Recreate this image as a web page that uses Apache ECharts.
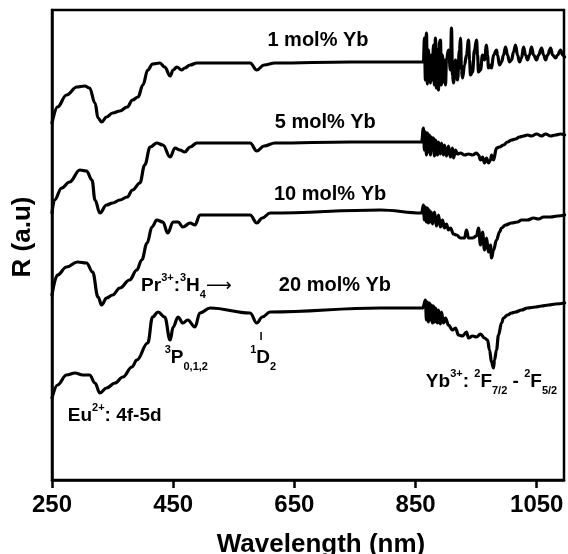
<!DOCTYPE html>
<html><head><meta charset="utf-8">
<script src="https://cdn.jsdelivr.net/npm/echarts@6/dist/echarts.min.js"></script>
<style>html,body{margin:0;padding:0;background:#fff}#c{width:568px;height:554px}</style>
</head><body><div id="c"></div>
<script>
// ---- data (wavelength nm, reflectance a.u.) ----
const xTicks = [250, 450, 650, 850, 1050];
const seriesNames = ['1 mol% Yb', '5 mol% Yb', '10 mol% Yb', '20 mol% Yb'];

const yb1 = [
 [250,35.7],[259,37.3],[274,38.5],[291,39.3],[304,39.4],[312,39.2],[321,37.7],[326,36.2],[332,35.8],[340,36.3],
 [350,36.7],[362,36.9],[374,37.3],[383,38.0],[392,38.3],[400,39.5],[408,41.0],[416,41.6],[428,41.7],[436,41.3],
 [445,40.4],[450,41.0],[456,41.3],[464,41.0],[469,41.2],[478,41.5],[489,41.7],[577,41.7],[588,41.0],[600,41.5],
 [618,41.7],[742,41.8],[861,41.8],
 [863.0,41.8],[864.7,44.2],[866.3,40.0],[868.0,44.7],[869.6,39.6],[871.3,43.0],[872.9,40.5],[874.6,39.7],[876.2,42.5],
 [877.9,40.0],[879.5,43.5],[881.2,39.5],[882.8,44.2],[884.5,39.2],[886.2,43.0],[887.8,39.0],[889.5,43.8],[891.1,44.0],
 [892.8,39.5],[894.4,42.5],[896.1,39.8],[897.7,42.0],[899.4,39.5],[901.0,42.0],[904.3,43.0],[907.6,41.0],[909.3,45.2],
 [911.0,40.5],[912.6,39.7],[915.9,42.0],[919.2,40.0],[922.5,43.0],[924.2,44.2],[925.8,41.0],[927.5,40.2],[930.8,41.5],
 [934.1,42.5],[937.4,44.0],[939.1,42.0],[940.7,40.5],[944.0,40.8],[947.3,43.0],[950.6,44.0],[952.3,42.5],[953.9,40.8],
 [957.2,41.0],[960.5,42.5],[963.8,42.0],[967.1,43.5],[968.8,42.5],[970.4,41.2],[973.7,41.5],[975.4,41.2],[978.7,42.5],
 [983.6,43.0],[985.3,42.5],[988.6,41.5],[991.9,41.8],[995.2,42.5],[998.5,43.3],[1001.8,42.5],[1005.1,41.8],[1008.4,42.0],
 [1011.7,42.8],[1015.0,43.5],[1018.3,42.5],[1021.6,41.8],[1024.9,42.2],[1028.2,43.3],[1031.5,42.5],[1034.8,42.0],
 [1038.1,42.5],[1041.4,43.3],[1044.8,42.5],[1049.7,42.0],[1053.0,42.5],[1058.0,43.2],[1061.3,42.5],[1064.6,42.0],
 [1067.9,42.5],[1072.9,43.2],[1076.2,42.5],[1081.1,42.2],[1084.4,42.5],[1089.4,43.0],[1092.7,42.5],[1096.0,42.3]
];

const yb5 = [
 [250,26.7],[254,28.0],[266,29.2],[279,29.8],[296,31.0],[307,30.9],[316,30.0],[321,28.0],[329,26.7],[340,27.5],
 [350,27.7],[362,28.0],[374,28.3],[383,29.0],[395,29.7],[403,31.5],[412,33.3],[423,33.7],[433,33.5],[445,32.3],
 [453,33.2],[461,33.0],[469,32.8],[478,33.3],[489,33.7],[577,33.7],[588,32.9],[600,33.4],[618,33.7],[742,33.8],[860,33.8],
 [863.0,35.2],[864.7,33.0],[866.3,34.8],[868.0,32.5],[869.6,34.7],[871.3,32.8],[872.9,34.5],[874.6,32.5],[876.2,34.3],
 [877.9,33.0],[879.5,34.2],[881.2,32.4],[882.8,34.0],[886.2,32.5],[887.8,33.8],[891.1,32.6],[892.8,33.7],[896.1,32.5],
 [897.7,33.5],[901.0,32.4],[904.3,33.4],[907.6,32.3],[911.0,33.2],[912.6,32.2],[915.9,33.0],[919.2,32.6],[924.2,32.7],
 [930.8,32.5],[937.4,32.6],[944.0,32.5],[950.6,32.7],[953.9,32.5],[957.2,32.0],[960.5,32.3],[963.8,31.7],[967.1,32.2],
 [970.4,31.7],[973.7,32.0],[975.4,32.5],[978.7,32.0],[983.6,33.2],[988.6,33.3],[995.2,33.5],[1001.8,33.8],[1008.4,34.0],
 [1015.0,34.1],[1021.6,34.3],[1028.2,34.4],[1034.8,34.5],[1041.4,34.4],[1049.7,34.6],[1058.0,34.4],[1064.6,34.6],
 [1072.9,34.4],[1081.1,34.5],[1089.4,34.6],[1096.0,34.5]
];

const yb10 = [
 [250,18.5],[259,20.5],[274,21.3],[292,21.8],[307,21.7],[317,20.8],[326,18.3],[332,17.5],[340,18.2],[350,18.5],
 [362,19.2],[378,20.0],[390,21.0],[398,22.0],[407,23.7],[415,25.3],[423,26.0],[433,25.8],[441,24.7],[450,25.8],
 [458,25.8],[466,25.3],[478,25.7],[486,25.5],[494,26.5],[577,26.5],[588,25.7],[597,26.2],[610,26.7],[792,27.0],[860,26.7],
 [863.0,27.5],[864.7,26.0],[866.3,27.3],[868.0,25.8],[869.6,27.2],[871.3,25.7],[872.9,27.0],[874.6,25.8],[876.2,26.8],
 [877.9,25.6],[881.2,26.8],[884.5,25.4],[887.8,26.5],[891.1,25.3],[894.4,26.0],[897.7,25.2],[901.0,25.6],[904.3,25.0],
 [907.6,25.2],[912.6,24.6],[917.6,24.5],[924.2,24.2],[930.8,24.2],[934.1,25.0],[937.4,24.2],[944.0,24.2],[950.6,24.4],
 [953.9,25.2],[957.2,23.5],[960.5,24.8],[963.8,23.0],[967.1,24.2],[970.4,22.8],[973.7,23.5],[975.4,22.2],[978.7,23.0],
 [983.6,24.0],[988.6,24.8],[991.9,25.2],[998.5,25.5],[1008.4,25.7],[1018.3,25.8],[1024.9,26.0],[1034.8,26.0],
 [1044.8,26.2],[1053.0,26.1],[1061.3,26.3],[1072.9,26.3],[1084.4,26.4],[1096.0,26.5]
];

const yb20 = [
 [250,8.2],[259,9.5],[274,10.5],[288,10.7],[301,10.5],[312,10.5],[321,9.7],[329,8.7],[340,9.2],[354,9.7],
 [367,10.3],[382,11.3],[390,12.0],[408,13.7],[416,16.3],[425,16.8],[436,16.3],[445,14.0],[450,15.3],[458,16.3],
 [466,15.7],[474,16.0],[486,15.3],[494,16.7],[511,17.2],[577,16.7],[588,15.7],[597,16.3],[610,16.8],[792,17.2],[862,17.2],
 [866.3,18.0],[868.0,16.0],[869.6,17.8],[871.3,15.8],[872.9,17.7],[874.6,16.0],[876.2,17.5],[877.9,15.7],[879.5,17.4],
 [881.2,15.8],[882.8,17.2],[886.2,15.7],[887.8,17.0],[891.1,15.6],[892.8,16.8],[896.1,15.7],[899.4,16.2],[904.3,15.5],
 [911.0,15.0],[915.9,15.2],[920.9,14.5],[927.5,14.4],[934.1,14.8],[937.4,14.2],[944.0,14.4],[950.6,14.3],[957.2,14.6],
 [963.8,14.2],[968.8,14.0],[972.1,13.0],[975.4,11.8],[978.7,11.2],[980.3,12.0],[983.6,13.0],[986.9,14.5],[991.9,15.7],
 [995.2,16.2],[1001.8,16.5],[1008.4,16.7],[1015.0,16.8],[1024.9,17.0],[1034.8,17.2],[1048.2,17.3],[1058.0,17.4],
 [1069.6,17.5],[1081.1,17.6],[1096.0,17.7]
];

// marker under the 1D2 dip
const d2Marker = [[595,14.8],[595,14.0]];

// label anchor positions [wavelength, R]
const seriesLabelPos = [[689,44.0],[701,35.8],[709,28.6],[717,19.5]];

const FONT = '"Liberation Sans", Arial, sans-serif';
const rich = {
  m:   {fontSize: 19, fontWeight: 'bold', fontFamily: FONT, color: '#000', lineHeight: 28, verticalAlign: 'middle'},
  sup: {fontSize: 11, fontWeight: 'bold', fontFamily: FONT, color: '#000', lineHeight: 16, verticalAlign: 'top'},
  sub: {fontSize: 11, fontWeight: 'bold', fontFamily: FONT, color: '#000', lineHeight: 13, verticalAlign: 'bottom'},
  arr: {fontSize: 18, fontFamily: 'DejaVu Sans', color: '#000', lineHeight: 28, verticalAlign: 'middle'}
};
const annotations = [
  {text: '{m|Pr}{sup|3+}{m|:}{sup|3}{m|H}{sub|4}{arr|⟶}', pos: [397, 19.4]},
  {text: '{sup|3}{m|P}{sub|0,1,2}', pos: [436, 12.2]},
  {text: '{sup|1}{m|D}{sub|2}', pos: [577, 12.2]},
  {text: '{m|Yb}{sup|3+}{m|: }{sup|2}{m|F}{sub|7/2}{m| - }{sup|2}{m|F}{sub|5/2}', pos: [867, 9.8]},
  {text: '{m|Eu}{sup|2+}{m|: 4f-5d}', pos: [276, 6.4]}
];

const chart = echarts.init(document.getElementById('c'), null, {renderer: 'canvas'});
const lineSeries = [yb1, yb5, yb10, yb20].map((d, i) => ({
  name: seriesNames[i], type: 'line', data: d, showSymbol: false, symbol: 'none',
  smooth: 0.4, smoothMonotone: 'x',
  lineStyle: {color: '#000', width: 3.2, join: 'round', cap: 'round'}, z: 3
}));
lineSeries.push({type: 'line', data: d2Marker, symbol: 'none', lineStyle: {color: '#000', width: 1.5}});

chart.setOption({
  animation: false,
  backgroundColor: '#fff',
  grid: {left: 52, right: 4, top: 10, bottom: 74, containLabel: false, outerBoundsMode: 'none',
    show: true, borderColor: '#000', borderWidth: 2.5},
  xAxis: {
    type: 'value', min: 250, max: 1095,
    name: 'Wavelength (nm)', nameLocation: 'middle', nameGap: 52,
    nameTextStyle: {fontSize: 26, fontWeight: 'bold', fontFamily: FONT, color: '#000', padding: [0, 0, 0, 26]},
    axisLine: {show: true, lineStyle: {color: '#000', width: 2.5}},
    axisTick: {show: true, length: 8, inside: false, customValues: xTicks, lineStyle: {color: '#000', width: 2.5}},
    axisLabel: {customValues: xTicks, margin: 13, fontSize: 24, fontWeight: 'bold', fontFamily: FONT, color: '#000',
      formatter: v => String(v)},
    splitLine: {show: false}
  },
  yAxis: {
    type: 'value', min: 0, max: 47,
    name: 'R (a.u)', nameLocation: 'middle', nameGap: 16, nameRotate: 90,
    nameTextStyle: {fontSize: 26, fontWeight: 'bold', fontFamily: FONT, color: '#000', padding: [0, 0, 0, 16]},
    axisLine: {show: true, lineStyle: {color: '#000', width: 2.5}},
    axisTick: {show: false}, axisLabel: {show: false}, splitLine: {show: false}
  },
  series: lineSeries
});

const g = [];
seriesNames.forEach((n, i) => {
  const p = chart.convertToPixel({gridIndex: 0}, seriesLabelPos[i]);
  g.push({type: 'text', x: p[0], y: p[1], z: 10,
    style: {text: n, fontSize: 20, fontWeight: 'bold', fontFamily: FONT, fill: '#000', align: 'center', verticalAlign: 'middle'}});
});
annotations.forEach(a => {
  const p = chart.convertToPixel({gridIndex: 0}, a.pos);
  g.push({type: 'text', x: p[0], y: p[1], z: 10,
    style: {text: a.text, rich: rich, fill: '#000', align: 'left', verticalAlign: 'middle'}});
});
chart.setOption({graphic: g});
</script></body></html>
